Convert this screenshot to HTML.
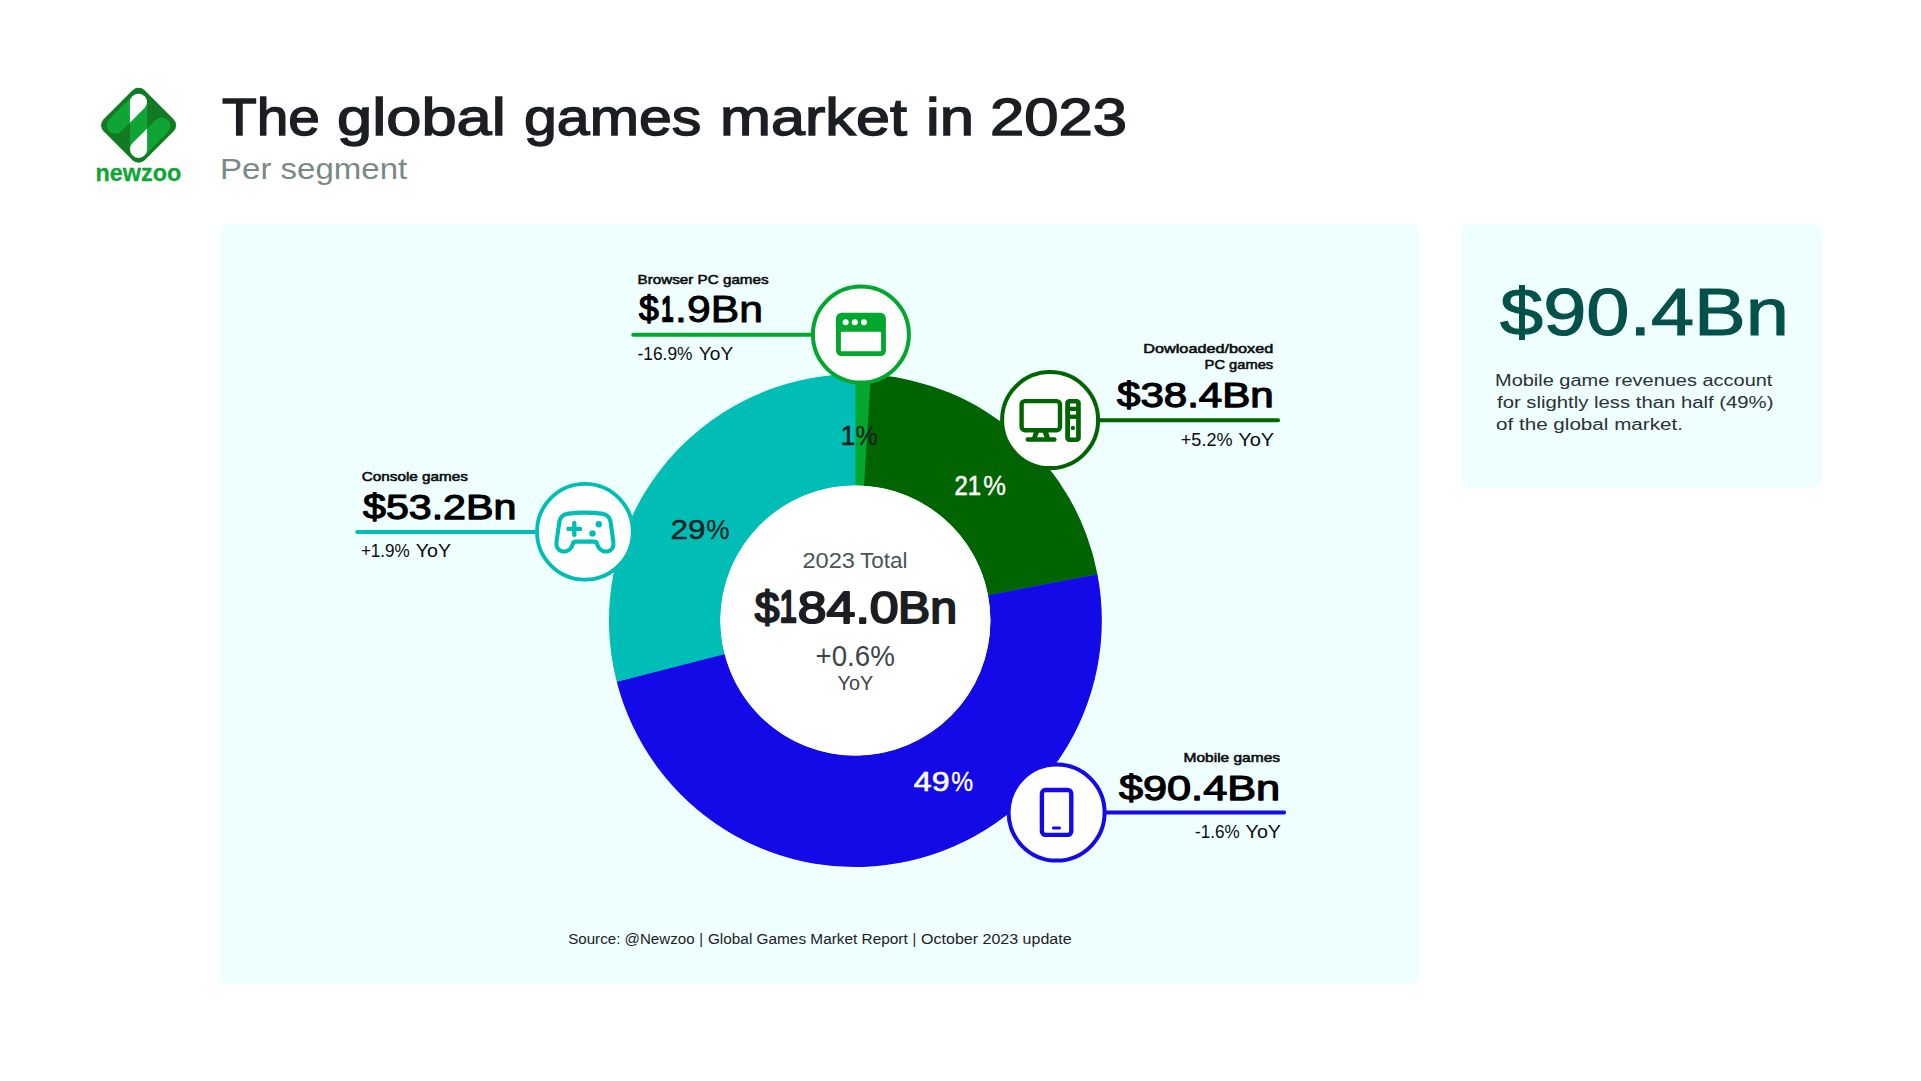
<!DOCTYPE html>
<html lang="en"><head><meta charset="utf-8"><title>The global games market in 2023</title>
<style>
html,body{margin:0;padding:0;background:#fff}
h1,p{margin:0}
body{position:relative;width:1921px;height:1081px;overflow:hidden;font-family:"Liberation Sans",sans-serif}
.t{position:absolute;margin:0;display:block;white-space:nowrap;line-height:1;transform-origin:0 0;font-weight:400}
.logo{position:absolute;left:88px;top:78px}
.panel{position:absolute;left:220px;top:224px;width:1200px;height:760px;border-radius:8px;background:#effefe}
.card{position:absolute;left:1461px;top:224px;width:360.5px;height:264px;border-radius:8px;background:#effefe}
.chart{position:absolute;left:0;top:0;width:1200px;height:760px;font-family:"Liberation Sans",sans-serif}
</style></head>
<body>
<header>
<svg class="logo" width="100" height="120" viewBox="88 78 100 120" aria-label="newzoo">
<defs><clipPath id="cpl"><rect x="-8.6" y="-8.6" width="17.2" height="50" rx="8.6" transform="translate(138.5 102) rotate(45)"/></clipPath>
<clipPath id="cpr"><rect x="-8.6" y="-41.4" width="17.2" height="50" rx="8.6" transform="translate(138.5 149.3) rotate(45)"/></clipPath></defs>
<rect x="-29" y="-29" width="58" height="58" rx="8.5" transform="translate(138.6 125.3) rotate(45)" fill="#117a22"/>
<rect x="-8.6" y="-8.6" width="17.2" height="50" rx="8.6" transform="translate(138.5 102) rotate(45)" fill="#0ea535"/>
<rect x="-8.6" y="-41.4" width="17.2" height="50" rx="8.6" transform="translate(138.5 149.3) rotate(45)" fill="#0ea535"/>
<rect x="129.9" y="93.4" width="17.2" height="64.5" rx="8.6" fill="#0ea535"/>
<rect x="129.9" y="93.4" width="17.2" height="64.5" rx="8.6" fill="#fff" clip-path="url(#cpl)"/>
<rect x="129.9" y="93.4" width="17.2" height="64.5" rx="8.6" fill="#fff" clip-path="url(#cpr)"/>
<text x="95.6" y="180.7" font-size="23.6" font-weight="700" stroke="#10a537" stroke-width="0.3" textLength="85.6" lengthAdjust="spacingAndGlyphs" fill="#10a537">newzoo</text>
</svg>
<h1><span class="t " style="left:222.0px;top:92.0px;font-size:51.74px;transform:scaleX(1.0992);color:#1b1e22;-webkit-text-stroke:1.4px #1b1e22;">The</span> <span class="t " style="left:337.2px;top:92.0px;font-size:51.74px;transform:scaleX(1.2225);color:#1b1e22;-webkit-text-stroke:1.4px #1b1e22;">global</span> <span class="t " style="left:523.6px;top:92.0px;font-size:51.74px;transform:scaleX(1.1424);color:#1b1e22;-webkit-text-stroke:1.4px #1b1e22;">games</span> <span class="t " style="left:719.8px;top:92.0px;font-size:51.74px;transform:scaleX(1.1821);color:#1b1e22;-webkit-text-stroke:1.4px #1b1e22;">market</span> <span class="t " style="left:926.4px;top:92.0px;font-size:51.74px;transform:scaleX(1.1916);color:#1b1e22;-webkit-text-stroke:1.4px #1b1e22;">in</span> <span class="t " style="left:990.0px;top:92.0px;font-size:51.74px;transform:scaleX(1.1903);color:#1b1e22;-webkit-text-stroke:1.4px #1b1e22;">2023</span></h1>
<p class="t " style="left:220.0px;top:155.3px;font-size:28.78px;transform:scaleX(1.1478);color:#7b8985;">Per segment</p>
</header>
<main class="panel">
<svg class="chart" viewBox="220 224 1200 760" width="1200" height="760" role="img" aria-label="Donut chart of 2023 global games market revenue per segment">
<g><circle cx="855.4" cy="620.5" r="190.7" fill="none" stroke="#00beb5" stroke-width="110.4"/><path d="M854.84 374.10A246.4 246.4 0 0 1 870.87 374.59L863.88 485.77A135.0 135.0 0 0 0 855.09 485.50Z" fill="#03a72e"/><path d="M870.87 374.59A246.4 246.4 0 0 1 1097.44 574.33L988.01 595.20A135.0 135.0 0 0 0 863.88 485.77Z" fill="#006400"/><path d="M1097.44 574.33A246.4 246.4 0 0 1 616.74 681.78L724.64 654.07A135.0 135.0 0 0 0 988.01 595.20Z" fill="#140ae7"/><path d="M616.74 681.78A246.4 246.4 0 0 1 855.40 374.10L855.40 485.50A135.0 135.0 0 0 0 724.64 654.07Z" fill="#00beb5"/><circle cx="855.4" cy="620.5" r="135.0" fill="#fff"/></g>
<g><path d="M633.3 334.7H815" stroke="#03a72e" stroke-width="4" stroke-linecap="round" fill="none"/><circle cx="860.9" cy="334.6" r="48" fill="#fff" stroke="#03a72e" stroke-width="4"/><rect x="836" y="312.8" width="49.9" height="43.3" rx="5.5" fill="#03a72e"/><rect x="840.9" y="331.7" width="40.2" height="19.5" rx="0.8" fill="#fff"/><circle cx="845.7" cy="322.2" r="3" fill="#fff"/><circle cx="854.8" cy="322.2" r="3" fill="#fff"/><circle cx="864" cy="322.2" r="3" fill="#fff"/></g>
<g><path d="M1098 420.3H1278" stroke="#006400" stroke-width="4" stroke-linecap="round" fill="none"/><circle cx="1050.1" cy="420.1" r="48" fill="#fff" stroke="#006400" stroke-width="4"/><g fill="none" stroke="#006400" stroke-width="4.4" stroke-linejoin="round" stroke-linecap="round"><rect x="1021.6" y="401.1" width="38.4" height="29.1" rx="3.4"/><path d="M1027.8 439.5H1054.4"/></g><path d="M1034.2 431L1031.9 438H1036.9L1038.9 432.6H1042.7L1044.7 438H1050L1047.9 431Z" fill="#006400"/><rect x="1065.2" y="398.9" width="15.6" height="43.2" rx="4.2" fill="#006400"/><rect x="1070" y="403.5" width="6.1" height="3.2" fill="#fff"/><rect x="1070" y="411" width="6.1" height="3.6" fill="#fff"/><rect x="1070" y="418.9" width="6.1" height="18.6" fill="#fff"/><circle cx="1072.9" cy="427.9" r="2.2" fill="#006400"/></g>
<g><path d="M1105 812.6H1284.1" stroke="#140ae7" stroke-width="4" stroke-linecap="round" fill="none"/><circle cx="1056.6" cy="812.6" r="48" fill="#fff" stroke="#140ae7" stroke-width="4"/><rect x="1041.9" y="790" width="29.4" height="44.9" rx="3.6" fill="none" stroke="#140ae7" stroke-width="4.4"/><rect x="1051.9" y="826.4" width="9.1" height="3.1" rx="1.5" fill="#140ae7"/></g>
<g><path d="M357.3 532H538" stroke="#00beb5" stroke-width="4" stroke-linecap="round" fill="none"/><circle cx="584.9" cy="531.7" r="47.9" fill="#fff" stroke="#00beb5" stroke-width="3.8"/><path d="M566.6 513.9Q585.0 511.4 603.3 513.9Q608.9 515.2 610.4 520.8L613.4 542.1C614.7 551.8 603.3 554.9 598.4 547.2Q597.4 545.7 597.2 544.0Q596.7 541.6 594.1 541.6L575.8 541.6Q573.2 541.6 572.7 544.0Q572.5 545.7 571.5 547.2C566.6 554.9 555.2 551.8 556.5 542.1L559.5 520.8Q561.0 515.2 566.6 513.9Z" fill="none" stroke="#00beb5" stroke-width="4.1" stroke-linejoin="round"/><path d="M574.3 523.0L574.3 534.8M568.5 528.9L580.1 528.9" stroke="#00beb5" stroke-width="4.4" stroke-linecap="round" fill="none"/><circle cx="598.8" cy="524.2" r="3.2" fill="#00beb5"/><circle cx="592.5" cy="533.4" r="3.2" fill="#00beb5"/></g>
<g><text x="637.6" y="283.5" font-size="12.72" fill="#0b0d0e" textLength="131.0" lengthAdjust="spacingAndGlyphs" stroke="#0b0d0e" stroke-width="0.55" stroke-linejoin="round">Browser PC games</text>
<text><tspan x="638.9" y="321.4" font-size="35.76" fill="#000" textLength="19.7" lengthAdjust="spacingAndGlyphs" stroke="#000" stroke-width="1.4" stroke-linejoin="round">$</tspan><tspan x="661.3" y="320.9" font-size="34.16" fill="#000" textLength="12.3" lengthAdjust="spacingAndGlyphs" stroke="#000" stroke-width="2.5" stroke-linejoin="round">1</tspan><tspan x="675.1" y="321.7" font-size="36.48" fill="#000" textLength="87.8" lengthAdjust="spacingAndGlyphs" stroke="#000" stroke-width="0.9" stroke-linejoin="round">.9Bn</tspan></text>
<text><tspan x="637.6" y="359.5" font-size="18.02" fill="#0b0d0e" textLength="54.8" lengthAdjust="spacingAndGlyphs">-16.9%</tspan> <tspan x="698.8" y="359.5" font-size="18.02" fill="#0b0d0e" textLength="34.4" lengthAdjust="spacingAndGlyphs">YoY</tspan></text>
<text x="361.8" y="480.8" font-size="12.72" fill="#0b0d0e" textLength="106.2" lengthAdjust="spacingAndGlyphs" stroke="#0b0d0e" stroke-width="0.55" stroke-linejoin="round">Console games</text>
<text x="363.0" y="518.8" font-size="35.97" fill="#000" textLength="153.3" lengthAdjust="spacingAndGlyphs" stroke="#000" stroke-width="1.25" stroke-linejoin="round">$53.2Bn</text>
<text><tspan x="360.9" y="556.6" font-size="18.02" fill="#0b0d0e" textLength="48.9" lengthAdjust="spacingAndGlyphs">+1.9%</tspan> <tspan x="415.7" y="556.6" font-size="18.02" fill="#0b0d0e" textLength="35.3" lengthAdjust="spacingAndGlyphs">YoY</tspan></text>
<text><tspan x="1143.3" y="352.5" font-size="12.86" fill="#0b0d0e" textLength="129.9" lengthAdjust="spacingAndGlyphs" stroke="#0b0d0e" stroke-width="0.55" stroke-linejoin="round">Dowloaded/boxed</tspan> <tspan x="1204.6" y="369.1" font-size="12.86" fill="#0b0d0e" textLength="68.6" lengthAdjust="spacingAndGlyphs" stroke="#0b0d0e" stroke-width="0.55" stroke-linejoin="round">PC games</tspan></text>
<text x="1117.0" y="407.2" font-size="35.97" fill="#000" textLength="156.7" lengthAdjust="spacingAndGlyphs" stroke="#000" stroke-width="1.25" stroke-linejoin="round">$38.4Bn</text>
<text><tspan x="1180.8" y="445.7" font-size="18.02" fill="#0b0d0e" textLength="51.7" lengthAdjust="spacingAndGlyphs">+5.2%</tspan> <tspan x="1238.2" y="445.7" font-size="18.02" fill="#0b0d0e" textLength="36.0" lengthAdjust="spacingAndGlyphs">YoY</tspan></text>
<text x="1183.6" y="761.7" font-size="12.57" fill="#0b0d0e" textLength="96.4" lengthAdjust="spacingAndGlyphs" stroke="#0b0d0e" stroke-width="0.55" stroke-linejoin="round">Mobile games</text>
<text x="1118.9" y="799.8" font-size="35.97" fill="#000" textLength="161.3" lengthAdjust="spacingAndGlyphs" stroke="#000" stroke-width="1.25" stroke-linejoin="round">$90.4Bn</text>
<text><tspan x="1195.1" y="837.8" font-size="18.02" fill="#0b0d0e" textLength="44.6" lengthAdjust="spacingAndGlyphs">-1.6%</tspan> <tspan x="1245.6" y="837.8" font-size="18.02" fill="#0b0d0e" textLength="35.4" lengthAdjust="spacingAndGlyphs">YoY</tspan></text>
<text><tspan x="802.4" y="567.5" font-size="22.09" fill="#4a5457" textLength="52.5" lengthAdjust="spacingAndGlyphs">2023</tspan> <tspan x="860.0" y="567.5" font-size="22.09" fill="#4a5457" textLength="47.5" lengthAdjust="spacingAndGlyphs">Total</tspan></text>
<text><tspan x="754.7" y="622.5" font-size="45.06" fill="#1b1e22" textLength="24.7" lengthAdjust="spacingAndGlyphs" stroke="#1b1e22" stroke-width="2.0" stroke-linejoin="round">$</tspan><tspan x="779.6" y="622.1" font-size="44.04" fill="#1b1e22" textLength="17.4" lengthAdjust="spacingAndGlyphs" stroke="#1b1e22" stroke-width="2.7" stroke-linejoin="round">1</tspan><tspan x="797.8" y="622.5" font-size="45.06" fill="#1b1e22" textLength="100.8" lengthAdjust="spacingAndGlyphs" stroke="#1b1e22" stroke-width="2.0" stroke-linejoin="round">84.0</tspan><tspan x="898.0" y="622.5" font-size="45.06" fill="#1b1e22" textLength="59.0" lengthAdjust="spacingAndGlyphs" stroke="#1b1e22" stroke-width="2.0" stroke-linejoin="round">Bn</tspan></text>
<text x="815.5" y="666.4" font-size="28.63" fill="#3b4548" textLength="79.3" lengthAdjust="spacingAndGlyphs">+0.6%</text>
<text x="837.5" y="689.9" font-size="19.91" fill="#3b4548" textLength="35.6" lengthAdjust="spacingAndGlyphs">YoY</text>
<text><tspan x="840.6" y="444.8" font-size="26.74" fill="#1b1e22" stroke="#1b1e22" stroke-width="0.6" stroke-linejoin="round">1</tspan><tspan x="855.5" y="445.0" font-size="27.25" fill="#1b1e22" textLength="22.2" lengthAdjust="spacingAndGlyphs" stroke="#1b1e22" stroke-width="0.25" stroke-linejoin="round">%</tspan></text>
<text><tspan x="954.4" y="494.6" font-size="27.47" fill="#fff" textLength="26.6" lengthAdjust="spacingAndGlyphs" stroke="#fff" stroke-width="0.6" stroke-linejoin="round">21</tspan><tspan x="983.3" y="494.7" font-size="27.83" fill="#fff" textLength="22.7" lengthAdjust="spacingAndGlyphs" stroke="#fff" stroke-width="0.35" stroke-linejoin="round">%</tspan></text>
<text><tspan x="670.4" y="538.8" font-size="27.18" fill="#1b1e22" textLength="35.0" lengthAdjust="spacingAndGlyphs" stroke="#1b1e22" stroke-width="0.5" stroke-linejoin="round">29</tspan><tspan x="706.2" y="538.9" font-size="27.54" fill="#1b1e22" textLength="23.3" lengthAdjust="spacingAndGlyphs" stroke="#1b1e22" stroke-width="0.25" stroke-linejoin="round">%</tspan></text>
<text><tspan x="913.8" y="790.7" font-size="27.76" fill="#fff" textLength="35.7" lengthAdjust="spacingAndGlyphs" stroke="#fff" stroke-width="0.6" stroke-linejoin="round">49</tspan><tspan x="951.3" y="790.8" font-size="28.12" fill="#fff" textLength="21.9" lengthAdjust="spacingAndGlyphs" stroke="#fff" stroke-width="0.35" stroke-linejoin="round">%</tspan></text>
<text><tspan x="568.2" y="944.0" font-size="14.53" fill="#1d2225" textLength="126.4" lengthAdjust="spacingAndGlyphs">Source: @Newzoo</tspan> <tspan x="699.2" y="944.0" font-size="14.53" fill="#1d2225">|</tspan> <tspan x="707.9" y="944.0" font-size="14.53" fill="#1d2225" textLength="199.8" lengthAdjust="spacingAndGlyphs">Global Games Market Report</tspan> <tspan x="912.5" y="944.0" font-size="14.53" fill="#1d2225">|</tspan> <tspan x="921.1" y="944.0" font-size="14.53" fill="#1d2225" textLength="150.5" lengthAdjust="spacingAndGlyphs">October 2023 update</tspan></text></g>
</svg>
</main>
<aside class="card">
<div class="t " style="left:39.0px;top:53.7px;font-size:67.44px;transform:scaleX(1.1502);color:#04504a;-webkit-text-stroke:1.1px #04504a;">$90.4Bn</div>
<p><span class="t " style="left:34.0px;top:148.0px;font-size:17.3px;transform:scaleX(1.155);color:#2a3235;">Mobile game revenues account</span> <span class="t " style="left:36.0px;top:169.8px;font-size:17.3px;transform:scaleX(1.1745);color:#2a3235;">for slightly less than half (49%)</span> <span class="t " style="left:35.0px;top:191.6px;font-size:17.3px;transform:scaleX(1.1937);color:#2a3235;">of the global market.</span></p>
</aside>
</body></html>
